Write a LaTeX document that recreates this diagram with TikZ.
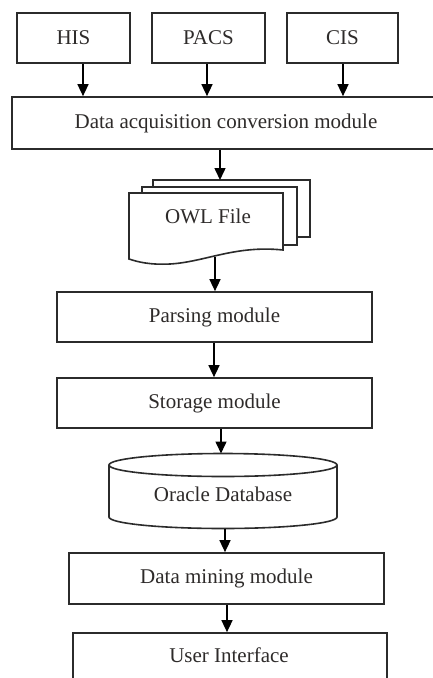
\documentclass[tikz,border=0pt]{standalone}
\usepackage{fontspec}
\setmainfont{Liberation Serif}
\usetikzlibrary{arrows.meta}
\definecolor{ink}{HTML}{2B2B2B}
\definecolor{txt}{HTML}{2E2B2A}
\tikzset{
  box/.style={draw=ink, line width=1.7pt, fill=white, inner sep=0pt,
    font=\fontsize{21}{24}\selectfont, text=txt},
  flow/.style={draw=black, line width=1.5pt, -{Triangle[width=11pt,length=12pt]}},
  shape line/.style={draw=ink, line width=1.6pt, fill=white, line join=miter},
  lbl/.style={font=\fontsize{21}{24}\selectfont, text=txt, inner sep=0pt}
}
\begin{document}
\begin{tikzpicture}[x=1pt,y=-1pt]
\useasboundingbox (0,0) rectangle (433,678);

% source systems
\node[box, minimum width=113pt, minimum height=50pt] (his)  at (73.5,38) {HIS};
\node[box, minimum width=113pt, minimum height=50pt] (pacs) at (208.5,38) {PACS};
\node[box, minimum width=111pt, minimum height=50pt] (cis)  at (342.5,38) {CIS};

% acquisition module (runs past the right edge)
\node[box, minimum width=428pt, minimum height=52pt] (daq) at (226,123) {Data acquisition conversion module};

\draw[flow] (his.south -| 83,0)  -- (daq.north -| 83,0);
\draw[flow] (pacs.south -| 207,0) -- (daq.north -| 207,0);
\draw[flow] (cis.south -| 343,0) -- (daq.north -| 343,0);

% stacked OWL documents
\draw[shape line] (153,180) -- (310,180) -- (310,237) -- (297,237) -- (297,187) -- (153,187) -- cycle;
\draw[shape line] (142,187) -- (297,187) -- (297,245) -- (283,245) -- (283,193) -- (142,193) -- cycle;
\draw[shape line] (129,193) -- (283,193) -- (283,250)
   .. controls (235,245) and (205,262) .. (170,264)
   .. controls (150,265) and (138,262) .. (129,259) -- cycle;
\coordinate (owltop) at (220,180);
\coordinate (owlbot) at (215,257);
\node[lbl] (owl) at (208,216) {OWL File};

\draw[flow] (daq.south -| owltop) -- (owltop);

% processing modules
\node[box, minimum width=315pt, minimum height=50pt] (parse) at (214.5,317) {Parsing module};
\node[box, minimum width=315pt, minimum height=50pt] (store) at (214.5,403) {Storage module};

\draw[flow] (owlbot) -- (parse.north -| owlbot);
\draw[flow] (parse.south -| 214,0) -- (store.north -| 214,0);

% database cylinder
\draw[shape line] (109,465) -- (109,517) arc[start angle=180, end angle=360, x radius=114pt, y radius=11.5pt]
  -- (337,465) arc[start angle=0, end angle=180, x radius=114pt, y radius=11.5pt] -- cycle;
\draw[draw=ink, line width=1.6pt] (109,465) arc[start angle=180, end angle=360, x radius=114pt, y radius=11.5pt];
\coordinate (dbtop) at (221,453.5);
\coordinate (dbbot) at (225,528.5);
\node[lbl] (db) at (223,494) {Oracle Database};

\draw[flow] (store.south -| dbtop) -- (dbtop);

% mining and user interface
\node[box, minimum width=315pt, minimum height=51pt] (mine) at (226.5,578.5) {Data mining module};
\node[box, minimum width=314pt, minimum height=57pt] (ui) at (230,661.5) {};
\node[lbl] (uitext) at (229,655) {User Interface};

\draw[flow] (dbbot) -- (mine.north -| dbbot);
\draw[flow] (mine.south -| 227,0) -- (ui.north -| 227,0);
\end{tikzpicture}
\end{document}
